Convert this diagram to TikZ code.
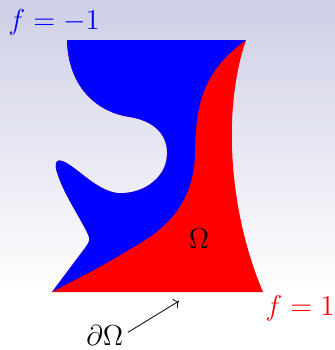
\documentclass[tikz,border=0pt]{standalone}
\usepackage{amsmath, amssymb}
\usetikzlibrary{arrows.meta, positioning}

\definecolor{bgtop}{RGB}{206,207,230}
% left rim of the domain, from the top corner down to the bottom corner
\newcommand{\leftrim}{(67,40) .. controls (68,85) and (95,112) .. (130,117)
  .. controls (160,122) and (168,140) .. (167,155)
  .. controls (166,180) and (140,195) .. (117,193)
  .. controls (95,190) and (75,165) .. (62,161)
  .. controls (54,158) and (55,168) .. (58,175)
  .. controls (64,195) and (85,225) .. (89,237)
  .. controls (90,241) and (88,244) .. (85,248) -- (52,292)}

\begin{document}
\begin{tikzpicture}[
    x=0.5pt, y=-0.5pt,
    lbl/.style={font=\Large, inner sep=0pt},
    >=To, thin
  ]
  \useasboundingbox (0,0) rectangle (335,350);
  \shade[top color=bgtop, bottom color=white] (0,0) rectangle (335,292);
  % whole domain in red, the part where f=-1 goes over it in blue
  \fill[red] \leftrim -- (263,292)
    .. controls (229,212) and (222,110) .. (246,40) -- cycle;
  \fill[blue] \leftrim
    .. controls (72,281) and (100,268) .. (130,249)
    .. controls (175,225) and (195,195) .. (195,150)
    .. controls (196,100) and (205,70) .. (246,40) -- cycle;

  \node[lbl, blue, anchor=base west] (fminus) at (8,29) {$f = -1$};
  \node[lbl, red, anchor=base west] (fplus) at (265,315) {$f = 1$};
  \node[lbl] (omega) at (199,239) {$\Omega$};
  \node[lbl, anchor=base west] (bdry) at (86,345) {$\partial\Omega$};
  \coordinate (edge) at (179,301);
  \draw[->, shorten <=2.5pt] (bdry.east) -- (edge);
\end{tikzpicture}
\end{document}
